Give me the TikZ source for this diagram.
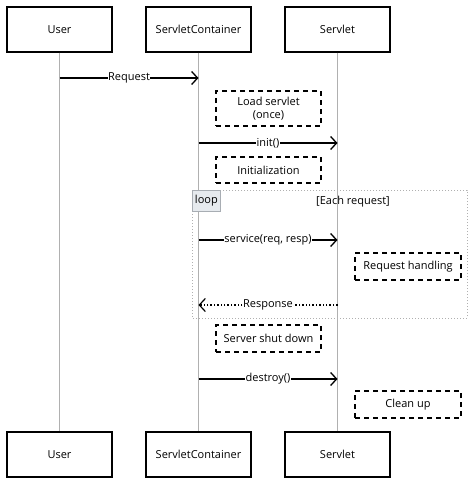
\documentclass[tikz,border=0pt]{standalone}
\usepackage{fontspec}
\setmainfont{Open Sans}
\usetikzlibrary{arrows.meta}
\definecolor{lifeg}{HTML}{B0B0B0}
\definecolor{loopfill}{HTML}{E6EAEE}
\definecolor{loopdraw}{HTML}{A8ADB3}
\begin{document}
\begin{tikzpicture}[x=1pt,y=-1pt,
  font=\fontsize{11}{13}\selectfont,
  actor/.style={draw=black,line width=1.2pt,minimum width=105pt,minimum height=45pt,inner sep=0pt},
  note/.style={draw=black,dash pattern=on 5pt off 4pt,line width=1.3pt,inner sep=0pt,align=center},
  life/.style={draw=lifeg,line width=0.8pt},
  msg/.style={line width=1.6pt,-{Straight Barb[length=6pt,width=13pt,line width=1.3pt]}},
  reply/.style={line width=1.4pt,dotted,-{Straight Barb[length=6pt,width=13pt,line width=1.2pt]}},
  lbl/.style={fill=white,inner sep=0.3pt},
  frame/.style={draw=lifeg,line width=1pt,dotted},
  tag/.style={draw=loopdraw,fill=loopfill,line width=0.8pt,minimum width=28pt,minimum height=21pt,inner sep=0pt}
]
\useasboundingbox (0,0) rectangle (474,484);
% actors
\node[actor] (ut) at (59.5,29.5) {User};
\node[actor] (ct) at (198.5,29.5) {ServletContainer};
\node[actor] (st) at (337.5,29.5) {Servlet};
\node[actor] (ub) at (59.5,454.5) {User};
\node[actor] (cb) at (198.5,454.5) {ServletContainer};
\node[actor] (sb) at (337.5,454.5) {Servlet};
% lifelines
\draw[life] (ut.south) -- (ub.north);
\draw[life] (ct.south) -- (cb.north);
\draw[life] (st.south) -- (sb.north);
% loop frame
\draw[frame] (192,190) rectangle (467,318);
\node[tag,anchor=north west] (looptag) at (192,190) {loop};
\node (cond) at (353,202) {[Each request]};
% coordinates on lifelines
\coordinate (u1) at (59.5,78);
\coordinate (c1) at (198.5,78);
\coordinate (c2) at (198.5,143);
\coordinate (s2) at (337.5,143);
\coordinate (c3) at (198.5,240);
\coordinate (s3) at (337.5,240);
\coordinate (s4) at (337.5,305);
\coordinate (c4) at (198.5,305);
\coordinate (c5) at (198.5,379);
\coordinate (s5) at (337.5,379);
% notes
\node[note,minimum width=105pt,minimum height=35pt] (n1) at (268.5,108.5) {Load servlet\\(once)};
\node[note,minimum width=105pt,minimum height=26pt] (n2) at (268.5,170) {Initialization};
\node[note,minimum width=106pt,minimum height=27pt] (n3) at (408,266.5) {Request handling};
\node[note,minimum width=105pt,minimum height=27pt] (n4) at (268.5,338.5) {Server shut down};
\node[note,minimum width=106pt,minimum height=27pt] (n5) at (408,404.5) {Clean up};
% messages
\draw[msg] (u1) -- node[lbl] {Request} (c1);
\draw[msg] (c2) -- node[lbl] {init()} (s2);
\draw[msg] (c3) -- node[lbl] {service(req, resp)} (s3);
\draw[reply] (s4) -- node[lbl] {Response} (c4);
\draw[msg] (c5) -- node[lbl] {destroy()} (s5);
\end{tikzpicture}
\end{document}
